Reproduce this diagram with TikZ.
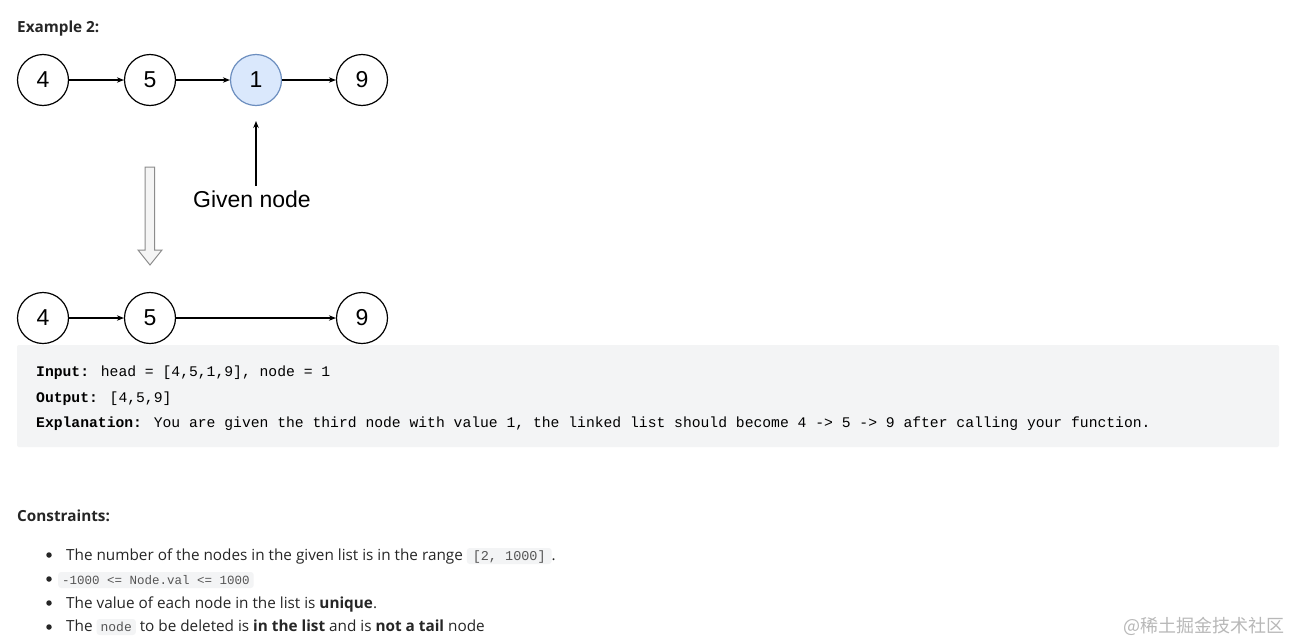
\documentclass[tikz,border=0pt]{standalone}
\usepackage{fontspec}
\setmainfont{Open Sans}
\newfontfamily\arialf{Liberation Sans}
\newfontfamily\monof{Liberation Mono}
\newfontfamily\cjkf{Noto Sans CJK SC}
\usetikzlibrary{arrows.meta}
\definecolor{nodeblue}{HTML}{DAE8FC}
\definecolor{nodeblueb}{HTML}{6C8EBF}
\definecolor{boxgray}{HTML}{F3F4F5}
\definecolor{codebg}{HTML}{F3F4F5}
\definecolor{codetxt}{HTML}{555555}
\definecolor{txt}{HTML}{262626}
\definecolor{wm}{HTML}{B8B8B8}
\tikzset{
  lnode/.style={circle, draw=black, line width=1.2pt, minimum size=51pt, inner sep=0pt,
    font=\arialf\fontsize{23}{23}\selectfont},
  given/.style={lnode, fill=nodeblue, draw=nodeblueb},
  link/.style={-{Stealth[length=7pt,width=5.5pt]}, line width=1.1pt},
  body/.style={anchor=base west, inner sep=0pt, text=txt, font=\fontsize{15.3}{18}\selectfont},
  mono/.style={anchor=base west, inner sep=0pt, text=black, font=\monof\fontsize{14.7}{18}\selectfont},
  code/.style={anchor=base west, inner xsep=4pt, inner ysep=0pt, fill=codebg, rounded corners=3pt,
    text=codetxt, text depth=4pt, text height=12pt, font=\monof\fontsize{12.5}{15}\selectfont},
  bul/.style={circle, fill=txt, inner sep=0pt, minimum size=5.5pt}
}
\begin{document}
\begin{tikzpicture}[x=1pt,y=-1pt]
\useasboundingbox[fill=white] (0,0) rectangle (1292,640);
% title
\node[body, font=\bfseries\fontsize{15.3}{18}\selectfont] (ex) at (17,32) {Example 2:};
% top list
\node[lnode] (a4) at (43,80) {4};
\node[lnode] (a5) at (150,80) {5};
\node[given] (a1) at (256,80) {1};
\node[lnode] (a9) at (362,80) {9};
\draw[link] (a4) -- (a5);
\draw[link] (a5) -- (a1);
\draw[link] (a1) -- (a9);
% given node
\node[inner sep=0pt, font=\arialf\fontsize{23}{23}\selectfont, anchor=north] (gn) at (252,191) {Given node};
\coordinate (gtip) at (256,121);
\coordinate (gtail) at (256,186);
\draw[link] (gtail) -- (gtip);
% hollow arrow
\draw[draw=gray!90, fill=gray!8, line width=1pt, line join=miter]
  (145,167) -- (154.5,167) -- (154.5,250) -- (162,250) -- (150,265) -- (138,250) -- (145,250) -- cycle;
% bottom list
\node[lnode] (b4) at (43,318) {4};
\node[lnode] (b5) at (150,318) {5};
\node[lnode] (b9) at (362,318) {9};
\draw[link] (b4) -- (b5);
\draw[link] (b5) -- (b9);
% gray box
\fill[boxgray, rounded corners=2pt] (17,345) rectangle (1279,447);
\node[mono] (in) at (36,376) {\textbf{Input:} head = [4,5,1,9], node = 1};
\node[mono] (out) at (36,402) {\textbf{Output:} [4,5,9]};
\node[mono] (expl) at (36,427) {\textbf{Explanation:} You are given the third node with value 1, the linked list should become 4 -> 5 -> 9 after calling your function.};
% constraints
\node[body, font=\bfseries\fontsize{15.3}{18}\selectfont] (con) at (17,521) {Constraints:};
\node[bul] (d1) at (49,555) {};
\node[bul] (d2) at (49,579) {};
\node[bul] (d3) at (49,603) {};
\node[bul] (d4) at (49,627) {};
\node[body] (l1) at (66,560) {The number of the nodes in the given list is in the range \tikz[baseline=0pt]\node[code, anchor=base, inner xsep=6pt, font=\monof\fontsize{13.5}{15}\selectfont] {[2, 1000]};.};
\node[code, font=\monof\fontsize{12.5}{15}\selectfont] (l2) at (58,584) {-1000 <= Node.val <= 1000};
\node[body] (l3) at (66,608) {The value of each node in the list is \textbf{unique}.};
\node[body] (l4) at (66,631) {The \tikz[baseline=0pt]\node[code, anchor=base, font=\monof\fontsize{13}{15}\selectfont] {node};\ to be deleted is \textbf{in the list} and is \textbf{not a tail} node};
% watermark
\node[anchor=base east, inner sep=0pt, text=wm, font=\cjkf\fontsize{18}{18}\selectfont] (wmk) at (1285,632) {@稀土掘金技术社区};
\end{tikzpicture}
\end{document}
